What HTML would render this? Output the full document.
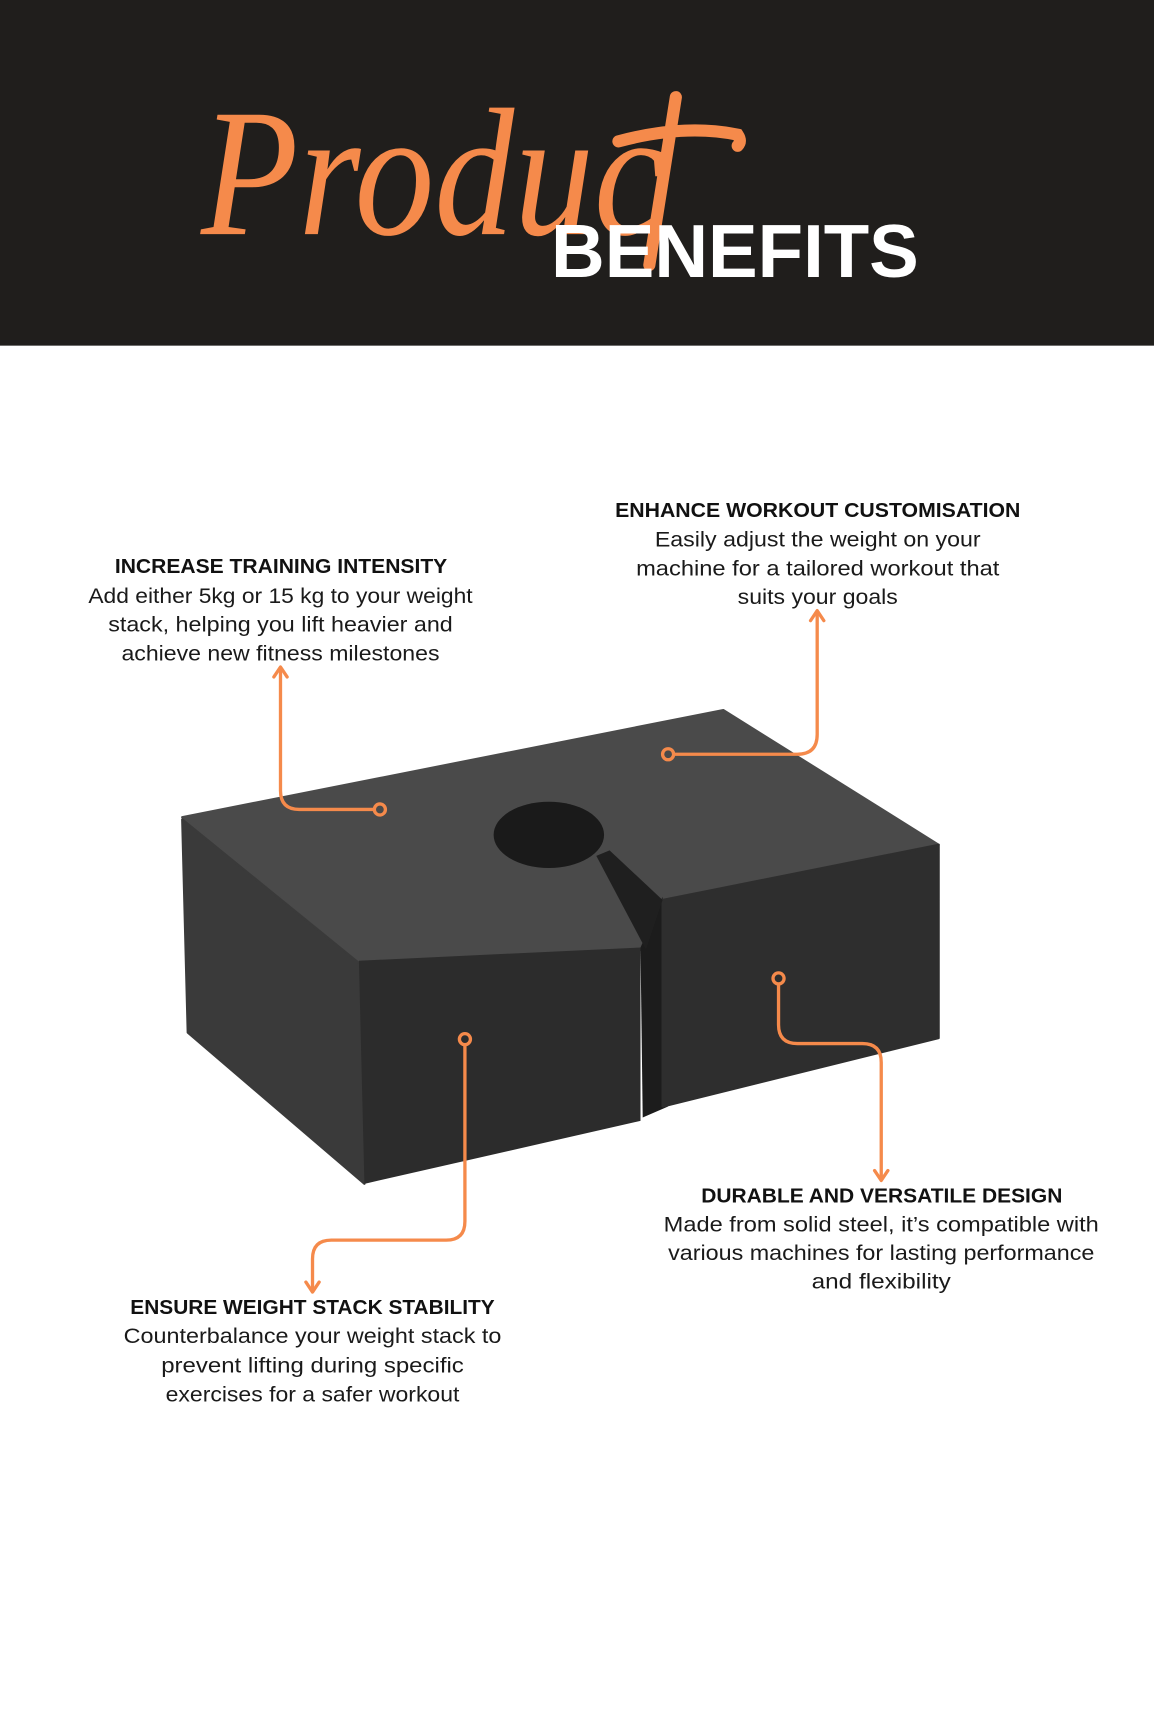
<!DOCTYPE html>
<html><head><meta charset="utf-8"><style>
html,body{margin:0;padding:0;background:#fff;}
svg{display:block;}
.h{font-family:"Liberation Sans",sans-serif;font-weight:bold;font-size:18px;fill:#111;}
.b{font-family:"Liberation Sans",sans-serif;font-size:19px;fill:#1a1a1a;}
.c{fill:none;stroke:#f58a4b;stroke-width:3;stroke-linecap:round;stroke-linejoin:round;}
</style></head><body>
<svg width="1154" height="1731" viewBox="0 0 1045 1567.5" xmlns="http://www.w3.org/2000/svg">
<rect x="0" y="0" width="1045" height="313" fill="#201e1c"/>
<text x="182" y="212" font-family="Liberation Serif,serif" font-style="italic" font-size="165" fill="#f58a4b" textLength="420" lengthAdjust="spacingAndGlyphs">Produc</text>
<path d="M612 88 L588 240 M560 128 Q620 112 668 122 Q672 128 668 132" fill="none" stroke="#f58a4b" stroke-width="11" stroke-linecap="round"/>
<text x="499" y="251" font-family="Liberation Sans,sans-serif" font-weight="bold" font-size="68" fill="#fff" textLength="333" lengthAdjust="spacingAndGlyphs">BENEFITS</text>

<!-- block -->
<polygon points="165,740 655,643 850,765 600,815 585,860 325,872" fill="#4a4a4a" stroke="#4a4a4a" stroke-width="2" stroke-linejoin="round"/>
<polygon points="165,742 325,872 330,1072 170,935" fill="#3a3a3a" stroke="#3a3a3a" stroke-width="2" stroke-linejoin="round"/>
<polygon points="325,870 580,858 580,1015 330,1072" fill="#2c2c2c"/>
<polygon points="580,858 600,812 605,1002 582,1012" fill="#1c1c1c"/>
<polygon points="600,815 850,765 850,940 600,1002" fill="#2e2e2e" stroke="#2e2e2e" stroke-width="2" stroke-linejoin="round"/>
<ellipse cx="497" cy="756" rx="50" ry="30" fill="#1a1a1a"/>
<polygon points="540,775 552,770 600,815 585,860" fill="#1f1f1f"/>

<!-- connectors -->
<path class="c" d="M254 607 L254 716 Q254 733 271 733 L338 733"/>
<path class="c" d="M248 613 L254 604 L260 613"/>
<circle class="c" cx="344" cy="733" r="5"/>
<path class="c" d="M611 683 L722 683 Q740 683 740 665 L740 556"/>
<path class="c" d="M734 562 L740 553 L746 562"/>
<circle class="c" cx="605" cy="683" r="5"/>
<path class="c" d="M705 892 L705 928 Q705 945 722 945 L781 945 Q798 945 798 962 L798 1066"/>
<path class="c" d="M792 1060 L798 1069 L804 1060"/>
<circle class="c" cx="705" cy="886" r="5"/>
<path class="c" d="M421 947 L421 1106 Q421 1123 404 1123 L300 1123 Q283 1123 283 1140 L283 1167"/>
<path class="c" d="M277 1161 L283 1170 L289 1161"/>
<circle class="c" cx="421" cy="941" r="5"/>

<!-- texts -->
<text class="h" x="104" y="519" textLength="301" lengthAdjust="spacingAndGlyphs">INCREASE TRAINING INTENSITY</text>
<text class="b" x="80" y="546" textLength="348" lengthAdjust="spacingAndGlyphs">Add either 5kg or 15 kg to your weight</text>
<text class="b" x="98" y="572" textLength="312" lengthAdjust="spacingAndGlyphs">stack, helping you lift heavier and</text>
<text class="b" x="110" y="598" textLength="288" lengthAdjust="spacingAndGlyphs">achieve new fitness milestones</text>

<text class="h" x="557" y="468" textLength="367" lengthAdjust="spacingAndGlyphs">ENHANCE WORKOUT CUSTOMISATION</text>
<text class="b" x="593" y="495" textLength="295" lengthAdjust="spacingAndGlyphs">Easily adjust the weight on your</text>
<text class="b" x="576" y="521" textLength="329" lengthAdjust="spacingAndGlyphs">machine for a tailored workout that</text>
<text class="b" x="668" y="547" textLength="145" lengthAdjust="spacingAndGlyphs">suits your goals</text>

<text class="h" x="635" y="1089" textLength="327" lengthAdjust="spacingAndGlyphs">DURABLE AND VERSATILE DESIGN</text>
<text class="b" x="601" y="1115" textLength="394" lengthAdjust="spacingAndGlyphs">Made from solid steel, it’s compatible with</text>
<text class="b" x="605" y="1141" textLength="386" lengthAdjust="spacingAndGlyphs">various machines for lasting performance</text>
<text class="b" x="735" y="1167" textLength="126" lengthAdjust="spacingAndGlyphs">and flexibility</text>

<text class="h" x="118" y="1190" textLength="330" lengthAdjust="spacingAndGlyphs">ENSURE WEIGHT STACK STABILITY</text>
<text class="b" x="112" y="1216" textLength="342" lengthAdjust="spacingAndGlyphs">Counterbalance your weight stack to</text>
<text class="b" x="146" y="1243" textLength="274" lengthAdjust="spacingAndGlyphs">prevent lifting during specific</text>
<text class="b" x="150" y="1269" textLength="266" lengthAdjust="spacingAndGlyphs">exercises for a safer workout</text>
</svg>
</body></html>
